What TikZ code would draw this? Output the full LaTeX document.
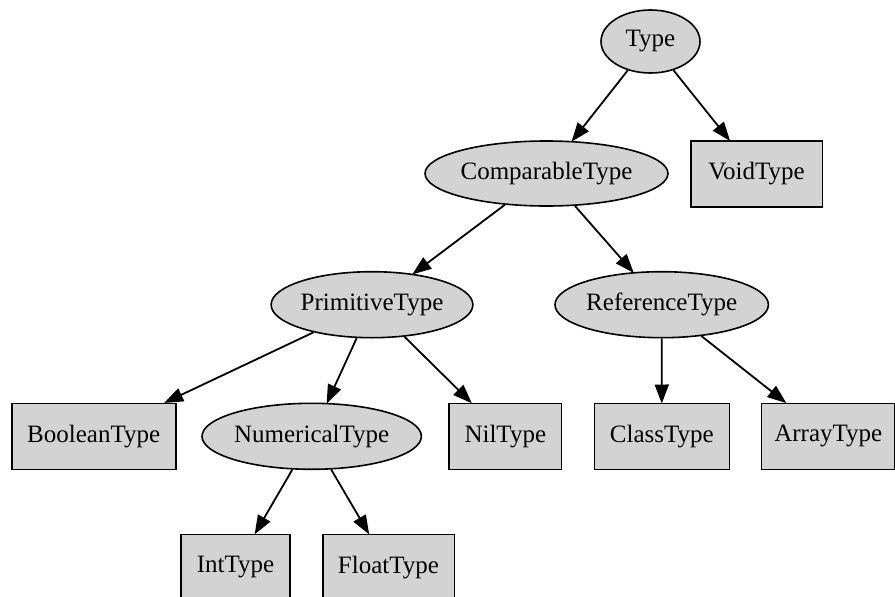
\documentclass[tikz,border=0pt]{standalone}
\usepackage{fontspec}
\setmainfont{Liberation Serif}
\usetikzlibrary{shapes.geometric,arrows.meta}
\definecolor{nodegray}{HTML}{D3D3D3}
\begin{document}
\begin{tikzpicture}[x=1pt,y=-1pt,
  every node/.style={font=\fontsize{25}{30}\selectfont, fill=nodegray, draw=black, line width=1.6pt, inner sep=0pt},
  oval/.style={ellipse},
  leaf/.style={rectangle, minimum height=66pt},
  edge/.style={line width=1.8pt, -{Triangle[length=19pt,width=14pt]}, shorten >=-1pt}
]
\useasboundingbox (0,0) rectangle (895,597);
\clip (0,0) rectangle (895,597);

% abstract types (ellipses)
\node[oval, minimum width=99pt,  minimum height=63pt] (type) at (650.5,41.5) {Type};
\node[oval, minimum width=223pt, minimum height=65pt] (comp) at (546.5,173.5) {ComparableType};
\node[oval, minimum width=194pt, minimum height=66pt] (prim) at (372,304.7) {PrimitiveType};
\node[oval, minimum width=202pt, minimum height=66pt] (ref)  at (661.7,304.7) {ReferenceType};
\node[oval, minimum width=208pt, minimum height=66pt] (num)  at (311.7,436.3) {NumericalType};

% concrete types (boxes)
\node[leaf, minimum width=131.6pt] (void)  at (756.5,174) {VoidType};
\node[leaf, minimum width=164pt]   (bool)  at (93.7,436.3) {BooleanType};
\node[leaf, minimum width=112.7pt] (nil)   at (505.3,436.3) {NilType};
\node[leaf, minimum width=135pt]   (class) at (661.8,436.3) {ClassType};
\node[leaf, minimum width=133.3pt] (array) at (828.3,436.3) {ArrayType};
\node[leaf, minimum width=109pt]   (int)   at (235.5,567.3) {IntType};
\node[leaf, minimum width=131.6pt] (float) at (388.5,567.3) {FloatType};

% inheritance edges
\draw[edge] (type) -- (comp);
\draw[edge] (type) -- (void);
\draw[edge] (comp) -- (prim);
\draw[edge] (comp) -- (ref);
\draw[edge] (prim) -- (bool);
\draw[edge] (prim) -- (num);
\draw[edge] (prim) -- (nil);
\draw[edge] (ref) -- (class);
\draw[edge] (ref) -- (array);
\draw[edge] (num) -- (int);
\draw[edge] (num) -- (float);
\end{tikzpicture}
\end{document}
